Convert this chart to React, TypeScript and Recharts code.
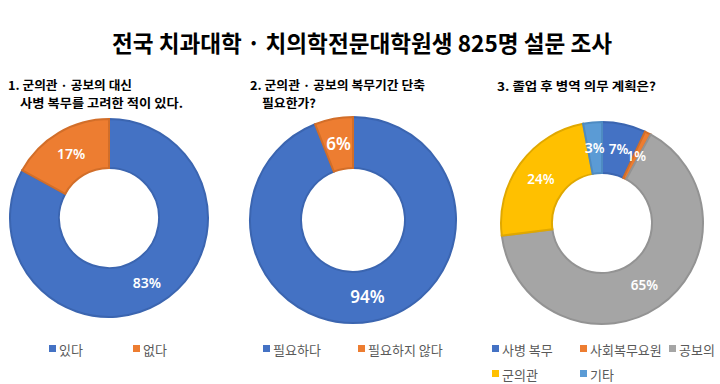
import React from 'react';
import { PieChart, Pie, Cell } from 'recharts';

// ---- data ----
const TITLE = '전국 치과대학 · 치의학전문대학원생 825명 설문 조사';

const q1Title = ['1. 군의관 · 공보의 대신', '사병 복무를 고려한 적이 있다.'];
const q1Names = ['있다', '없다'];
const q1Values = [83, 17];

const q2Title = ['2. 군의관 · 공보의 복무기간 단축', '필요한가?'];
const q2Names = ['필요하다', '필요하지 않다'];
const q2Values = [94, 6];

const q3Title = ['3. 졸업 후 병역 의무 계획은?'];
const q3Names = ['사병 복무', '사회복무요원', '공보의', '군의관', '기타'];
const q3Values = [7, 1, 65, 24, 3];

// ---- styles ----
const FILL: Record<string, string> = {
  blue: '#4472C4',
  orange: '#ED7D31',
  gray: '#A5A5A5',
  yellow: '#FFC000',
  lightblue: '#5B9BD5',
};
const STROKE: Record<string, string> = {
  blue: '#3B65B0',
  orange: '#D26E29',
  gray: '#939393',
  yellow: '#E0A800',
  lightblue: '#4E8BC2',
};
const q1Colors = ['blue', 'orange'];
const q2Colors = ['blue', 'orange'];
const q3Colors = ['blue', 'orange', 'gray', 'yellow', 'lightblue'];

const RADIAN = Math.PI / 180;
const KFONT = '"Noto Sans CJK KR", "Noto Sans", sans-serif';

const makeLabel = (fontSize: number) => (props: any) => {
  const { cx, cy, midAngle, innerRadius, outerRadius, value } = props;
  const r = (innerRadius + outerRadius) / 2;
  const x = cx + r * Math.cos(-midAngle * RADIAN);
  const y = cy + r * Math.sin(-midAngle * RADIAN);
  return (
    <text
      x={x}
      y={y}
      fill="#FFFFFF"
      textAnchor="middle"
      dominantBaseline="central"
      fontSize={fontSize}
      fontWeight={600}
      fontFamily='"Noto Sans", "Open Sans", sans-serif'
    >
      {`${value}%`}
    </text>
  );
};

const toData = (names: string[], values: number[]) =>
  names.map((name, i) => ({ name, value: values[i] }));

const LegendItem = ({ x, y, color, label }: { x: number; y: number; color: string; label: string }) => (
  <g>
    <rect x={x} y={y - 4} width={7} height={7} fill={FILL[color]} />
    <text x={x + 10} y={y} dominantBaseline="central" fontSize={13} fill="#595959" fontFamily={KFONT}>
      {label}
    </text>
  </g>
);

export default function App() {
  const d1 = toData(q1Names, q1Values);
  const d2 = toData(q2Names, q2Values);
  const d3 = toData(q3Names, q3Values);

  const l1x = [49, 133];
  const l2x = [263, 358];
  const l3pos = [
    [492, 349],
    [580, 349],
    [669, 349],
    [492, 374],
    [580, 374],
  ];

  return (
    <div style={{ position: 'absolute', left: 0, top: 0, width: 720, height: 384, background: '#fff' }}>
      <PieChart width={720} height={384} style={{ position: 'absolute', left: 0, top: 0 }}>
        <Pie
          data={d1}
          dataKey="value"
          nameKey="name"
          cx={104}
          cy={213}
          innerRadius={50}
          outerRadius={99}
          startAngle={90}
          endAngle={-270}
          label={makeLabel(14)}
          labelLine={false}
          isAnimationActive={false}
        >
          {d1.map((_, i) => (
            <Cell key={i} fill={FILL[q1Colors[i]]} stroke={STROKE[q1Colors[i]]} strokeWidth={2} />
          ))}
        </Pie>
        <Pie
          data={d2}
          dataKey="value"
          nameKey="name"
          cx={348}
          cy={215}
          innerRadius={52}
          outerRadius={103}
          startAngle={90}
          endAngle={-270}
          label={makeLabel(17)}
          labelLine={false}
          isAnimationActive={false}
        >
          {d2.map((_, i) => (
            <Cell key={i} fill={FILL[q2Colors[i]]} stroke={STROKE[q2Colors[i]]} strokeWidth={2} />
          ))}
        </Pie>
        <Pie
          data={d3}
          dataKey="value"
          nameKey="name"
          cx={597}
          cy={218}
          innerRadius={50}
          outerRadius={101}
          startAngle={90}
          endAngle={-270}
          label={makeLabel(13.5)}
          labelLine={false}
          isAnimationActive={false}
        >
          {d3.map((_, i) => (
            <Cell key={i} fill={FILL[q3Colors[i]]} stroke={STROKE[q3Colors[i]]} strokeWidth={2} />
          ))}
        </Pie>
      </PieChart>
      <svg
        width={720}
        height={384}
        style={{ position: 'absolute', left: 0, top: 0, pointerEvents: 'none' }}
      >
        <text
          x={112}
          y={52}
          fontSize={23}
          fontWeight={700}
          fill="#000"
          fontFamily={KFONT}
          textLength={500}
          lengthAdjust="spacingAndGlyphs"
        >
          {TITLE}
        </text>
        <text x={8} y={90} fontSize={12} fontWeight={700} fill="#000" fontFamily={KFONT} textLength={124} lengthAdjust="spacingAndGlyphs">
          {q1Title[0]}
        </text>
        <text x={20} y={108} fontSize={12} fontWeight={700} fill="#000" fontFamily={KFONT} textLength={163} lengthAdjust="spacingAndGlyphs">
          {q1Title[1]}
        </text>
        <text x={250} y={90} fontSize={12} fontWeight={700} fill="#000" fontFamily={KFONT} textLength={175} lengthAdjust="spacingAndGlyphs">
          {q2Title[0]}
        </text>
        <text x={262} y={108} fontSize={12} fontWeight={700} fill="#000" fontFamily={KFONT} textLength={54} lengthAdjust="spacingAndGlyphs">
          {q2Title[1]}
        </text>
        <text x={497} y={91} fontSize={12} fontWeight={700} fill="#000" fontFamily={KFONT} textLength={159} lengthAdjust="spacingAndGlyphs">
          {q3Title[0]}
        </text>

        {q1Names.map((n, i) => (
          <LegendItem key={n} x={l1x[i]} y={349} color={q1Colors[i]} label={n} />
        ))}
        {q2Names.map((n, i) => (
          <LegendItem key={n} x={l2x[i]} y={349} color={q2Colors[i]} label={n} />
        ))}
        {q3Names.map((n, i) => (
          <LegendItem key={n} x={l3pos[i][0]} y={l3pos[i][1]} color={q3Colors[i]} label={n} />
        ))}
      </svg>
    </div>
  );
}
